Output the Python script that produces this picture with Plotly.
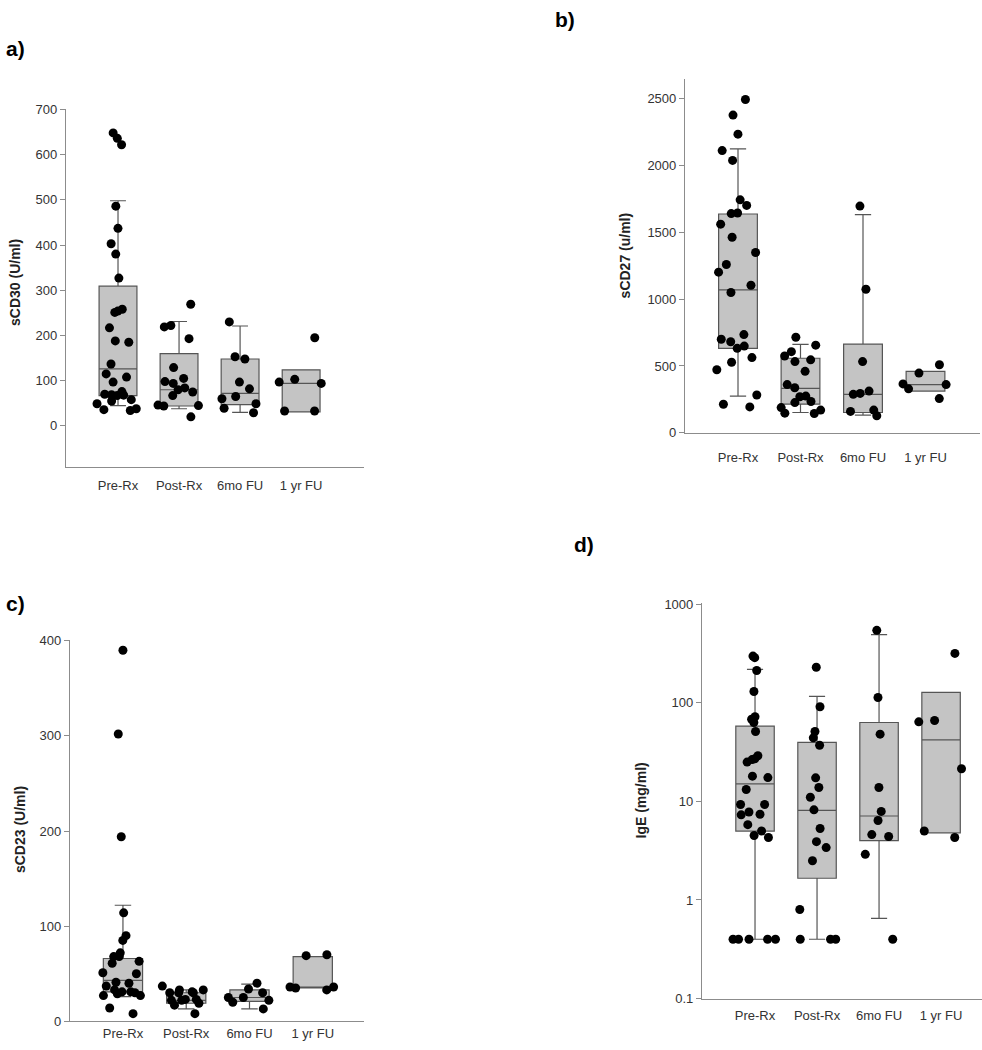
import plotly.graph_objects as go

categories = ["Pre-Rx", "Post-Rx", "6mo FU", "1 yr FU"]

# ---------------- panel a: sCD30 ----------------
a_pre = [622, 648, 636, 486, 437, 403, 380, 327, 251, 254, 258, 217, 188, 185, 137, 108, 115, 97,
         68, 76, 70, 69, 67, 58, 55, 49, 34, 36, 38]
a_post = [269, 219, 222, 193, 129, 105, 94, 98, 80, 84, 75, 67, 45, 46, 44, 20]
a_6mo = [230, 153, 148, 82, 97, 65, 49, 60, 39, 29]
a_1yr = [195, 97, 103, 94, 33, 33]
a_q1 = [67, 44, 47, 31]
a_med = [126, 80, 72, 94]
a_q3 = [309, 160, 148, 124]
a_lo = [45, 38, 30, 31]
a_hi = [498, 231, 221, 124]

# ---------------- panel b: sCD27 ----------------
b_pre = [2493, 2377, 2234, 2111, 2038, 1743, 1701, 1640, 1644, 1561, 1463, 1349, 1259, 1202, 1104,
         1050, 700, 735, 649, 681, 632, 563, 528, 472, 283, 214, 194]
b_post = [715, 656, 575, 607, 460, 546, 533, 361, 337, 270, 275, 234, 226, 189, 145, 170, 147]
b_6mo = [1696, 1074, 533, 312, 288, 295, 170, 160, 128]
b_1yr = [509, 447, 361, 366, 329, 256]
b_q1 = [632, 214, 152, 312]
b_med = [1069, 332, 288, 361]
b_q3 = [1637, 558, 664, 460]
b_lo = [275, 152, 133, 312]
b_hi = [2124, 661, 1632, 460]

# ---------------- panel c: sCD23 ----------------
c_pre = [390, 302, 194, 114, 90, 85, 72, 68, 68, 63, 61, 51, 50, 41, 40, 37, 33, 31, 30, 31, 27,
         27, 29, 14, 8]
c_post = [37, 30, 30, 33, 33, 31, 30, 23, 22, 19, 23, 17, 22, 8]
c_6mo = [40, 34, 25, 13, 20, 25, 30, 22]
c_1yr = [70, 69, 35, 33, 36, 36]
c_q1 = [31, 19, 21, 35]
c_med = [43, 22, 25, 35]
c_q3 = [66, 30, 33, 68]
c_lo = [26, 13, 13, 35]
c_hi = [122, 33, 39, 68]

# ---------------- panel d: IgE ----------------
d_pre = [297, 286, 212, 130, 72, 68, 63, 51, 27, 26.5, 29, 25, 17.4, 18, 13.2, 9.3, 9.3, 7.8, 7.3,
         7.4, 5.8, 5.0, 4.5, 4.3, 0.4, 0.4, 0.4, 0.4, 0.4]
d_post = [229, 91, 44, 51, 37, 17.3, 13.8, 11, 8.2, 5.3, 3.9, 3.4, 2.5, 0.8, 0.4, 0.4, 0.4]
d_6mo = [541, 113, 48, 13.8, 7.9, 6.4, 4.6, 4.4, 2.9, 0.4]
d_1yr = [316, 64, 66, 21.4, 5.0, 4.3]
d_q1 = [5.0, 1.66, 4.0, 4.8]
d_med = [15, 8.1, 7.1, 42]
d_q3 = [58, 39.6, 63, 127]
d_lo = [0.4, 0.4, 0.65, 4.8]
d_hi = [218, 116, 490, 127]

y_titles = ["sCD30 (U/ml)", "sCD27 (u/ml)", "sCD23 (U/ml)", "IgE (mg/ml)"]
panel_labels = ["a)", "b)", "c)", "d)"]

W, H = 982, 1050
FONT = "Liberation Sans, Arial, sans-serif"
BOX_W = 0.62
PTS_W = 0.85

panels = [
    dict(pts=[a_pre, a_post, a_6mo, a_1yr], q1=a_q1, med=a_med, q3=a_q3, lo=a_lo, hi=a_hi,
         xpx=(66, 364), ypx=(103, 467), xr=[-0.852, 4.03], yr=[-91.6, 702], ytype="linear",
         tickvals=[0, 100, 200, 300, 400, 500, 600, 700], tickfmt=None, standoff=6),
    dict(pts=[b_pre, b_post, b_6mo, b_1yr], q1=b_q1, med=b_med, q3=b_q3, lo=b_lo, hi=b_hi,
         xpx=(685, 980), ypx=(73, 432), xr=[-0.848, 3.872], yr=[0, 2647], ytype="linear",
         tickvals=[0, 500, 1000, 1500, 2000, 2500], tickfmt=None, standoff=12),
    dict(pts=[c_pre, c_post, c_6mo, c_1yr], q1=c_q1, med=c_med, q3=c_q3, lo=c_lo, hi=c_hi,
         xpx=(70, 364), ypx=(642, 1029), xr=[-0.837, 3.81], yr=[0, 401], ytype="linear",
         tickvals=[0, 100, 200, 300, 400], tickfmt=None, standoff=0),
    dict(pts=[d_pre, d_post, d_6mo, d_1yr], q1=d_q1, med=d_med, q3=d_q3, lo=d_lo, hi=d_hi,
         xpx=(702, 982), ypx=(605, 1006), xr=[-0.855, 3.66], yr=[-1, 3.007], ytype="log",
         tickvals=[0.1, 1, 10, 100, 1000], tickfmt=["0.1", "1", "10", "100", "1000"], standoff=5),
]

title_pos = [(15, 280), (625, 252), (20, 835), (640, 805)]
label_pos = [(16, 42), (565, 13), (16, 605), (584, 545)]

fig = go.Figure()
layout = dict(width=W, height=H, margin=dict(l=0, r=0, t=0, b=0),
              paper_bgcolor="white", plot_bgcolor="white", showlegend=False,
              boxmode="overlay", font=dict(family=FONT, color="#333333"))
annotations = []

for i, p in enumerate(panels):
    xa = "x" if i == 0 else f"x{i+1}"
    ya = "y" if i == 0 else f"y{i+1}"
    xkey = "xaxis" if i == 0 else f"xaxis{i+1}"
    ykey = "yaxis" if i == 0 else f"yaxis{i+1}"

    fig.add_trace(go.Box(
        x=categories, q1=p["q1"], median=p["med"], q3=p["q3"],
        lowerfence=p["lo"], upperfence=p["hi"],
        fillcolor="#c4c4c4", line=dict(color="#555555", width=1.2),
        whiskerwidth=0.42, width=BOX_W, boxpoints=False,
        xaxis=xa, yaxis=ya, hoverinfo="skip"))

    for ci, vals in enumerate(p["pts"]):
        fig.add_trace(go.Box(
            x=[categories[ci]] * len(vals), y=vals,
            boxpoints="all", jitter=1.0, pointpos=0, width=PTS_W,
            fillcolor="rgba(0,0,0,0)", line=dict(color="rgba(0,0,0,0)", width=0),
            marker=dict(color="black", size=9, line=dict(width=0)),
            xaxis=xa, yaxis=ya, hoveron="points"))

    x0, x1 = p["xpx"]
    yt, yb = p["ypx"]
    layout[xkey] = dict(domain=[x0 / W, x1 / W], anchor=ya, range=p["xr"],
                        type="category", categoryorder="array", categoryarray=categories,
                        showline=True, linecolor="#8c8c8c", linewidth=1.2,
                        ticks="", showgrid=False, zeroline=False,
                        tickfont=dict(size=13, color="#333333", family=FONT),
                        ticklabelstandoff=p["standoff"])
    yax = dict(domain=[1 - yb / H, 1 - yt / H], anchor=xa, range=p["yr"], type=p["ytype"],
               showline=True, linecolor="#8c8c8c", linewidth=1.2,
               ticks="outside", ticklen=5, tickcolor="#8c8c8c", tickwidth=1,
               showgrid=False, zeroline=False, tickvals=p["tickvals"],
               tickfont=dict(size=13, color="#333333", family=FONT))
    if p["tickfmt"]:
        yax["ticktext"] = p["tickfmt"]
    layout[ykey] = yax

    tx, ty = title_pos[i]
    annotations.append(dict(text=f"<b>{y_titles[i]}</b>", x=tx / W, y=1 - ty / H,
                            xref="paper", yref="paper", showarrow=False, textangle=-90,
                            xanchor="center", yanchor="middle",
                            font=dict(size=14, color="#222222", family=FONT)))
    lx, ly = label_pos[i]
    annotations.append(dict(text=f"<b>{panel_labels[i]}</b>", x=lx / W, y=1 - ly / H,
                            xref="paper", yref="paper", showarrow=False,
                            xanchor="center", yanchor="middle",
                            font=dict(size=21, color="black", family=FONT)))

layout["annotations"] = annotations
fig.update_layout(**layout)
fig.write_html("out.html", config={"displayModeBar": False},
               post_script="document.body.style.margin='0';document.body.style.overflow='hidden';")
